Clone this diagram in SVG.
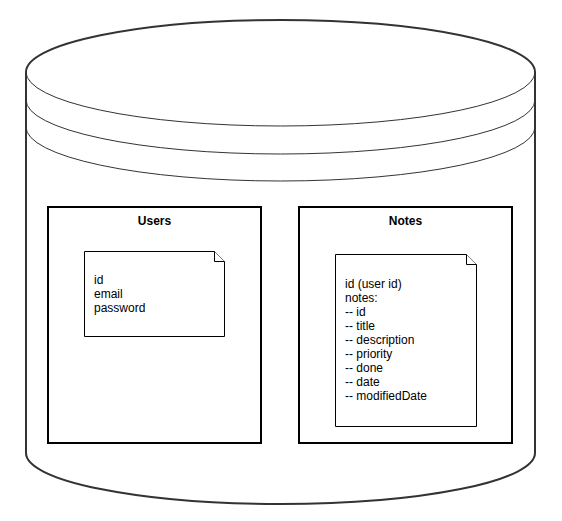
<svg xmlns="http://www.w3.org/2000/svg" width="562" height="521" viewBox="0 0 562 521">
<style>
.cyl{fill:#fff;stroke:#333;stroke-width:2}
.ring{fill:none;stroke:#333;stroke-width:1}
.box{fill:#fff;stroke:#000;stroke-width:2}
.note{fill:#fff;stroke:#000;stroke-width:1}
.title{font-family:"Liberation Sans",Arial,sans-serif;font-size:12px;font-weight:bold;fill:#000;text-anchor:middle}
.txt{font-family:"Liberation Sans",Arial,sans-serif;font-size:12px;fill:#000}
</style>
<rect width="562" height="521" fill="#fff"/>
<g id="database">
<path class="cyl" d="M26,72 A254.5,52 0 0 1 535,72 L535,453 A254.5,51 0 0 1 26,453 Z"/>
<path class="ring" d="M26,72 A254.5,54 0 0 0 535,72"/>
<path class="ring" d="M26,100 A254.5,54 0 0 0 535,100"/>
<path class="ring" d="M26,127 A254.5,54 0 0 0 535,127"/>
</g>
<g id="users">
<rect class="box" x="48" y="207" width="213" height="236"/>
<text class="title" x="154.5" y="225">Users</text>
<path class="note" d="M84.5,251.5 H214.5 L224.5,261.5 V336.5 H84.5 Z"/>
<path class="note" d="M214.5,251.5 V261.5 H224.5" fill="none"/>
<text class="txt" x="94" y="284">id</text>
<text class="txt" x="94" y="298">email</text>
<text class="txt" x="94" y="312">password</text>
</g>
<g id="notes">
<rect class="box" x="299" y="207" width="213" height="236"/>
<text class="title" x="405.5" y="225">Notes</text>
<path class="note" d="M335.5,254.5 H466.5 L476.5,264.5 V426.5 H335.5 Z"/>
<path class="note" d="M466.5,254.5 V264.5 H476.5" fill="none"/>
<text class="txt" x="345" y="288">id (user id)</text>
<text class="txt" x="345" y="302">notes:</text>
<text class="txt" x="345" y="316">-- id</text>
<text class="txt" x="345" y="330">-- title</text>
<text class="txt" x="345" y="344">-- description</text>
<text class="txt" x="345" y="358">-- priority</text>
<text class="txt" x="345" y="372">-- done</text>
<text class="txt" x="345" y="386">-- date</text>
<text class="txt" x="345" y="400">-- modifiedDate</text>
</g>
<g id="connectors"/>
</svg>
